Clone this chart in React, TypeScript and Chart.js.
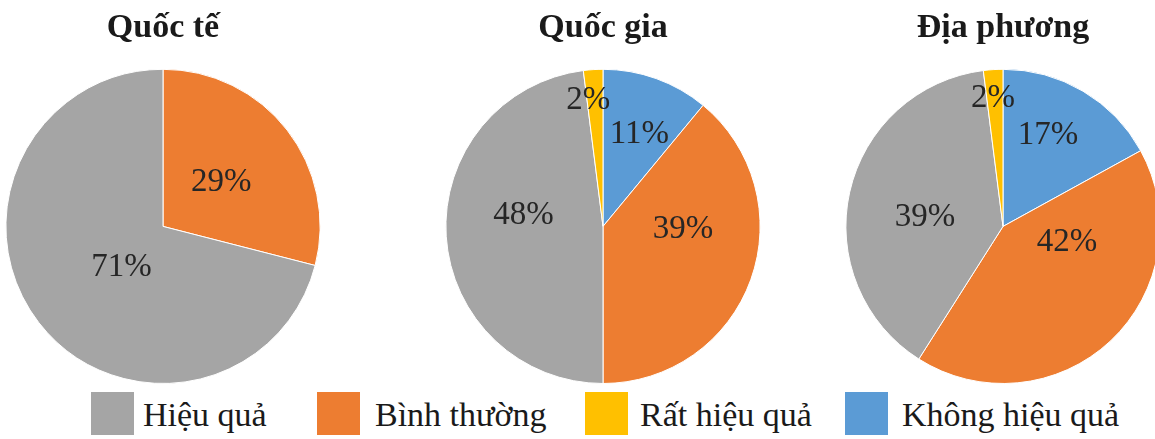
import React, { useEffect, useRef } from "react";
import { Chart, registerables } from "chart.js";

Chart.register(...registerables);

// ---- data ----
const categories = ["Không hiệu quả", "Bình thường", "Hiệu quả", "Rất hiệu quả"];
const colors = ["#5B9BD5", "#ED7D31", "#A5A5A5", "#FFC000"];
const titles = ["Quốc tế", "Quốc gia", "Địa phương"];
const quocTe = [0, 29, 71, 0];
const quocGia = [11, 39, 48, 2];
const diaPhuong = [17, 42, 39, 2];
const legendOrder = ["Hiệu quả", "Bình thường", "Rất hiệu quả", "Không hiệu quả"];

// label placement (angle shift in degrees from slice middle, radius fraction)
const qtLabelShift = [0, 0.8, -6.6, 0];
const qtLabelRadius = [0.5, 0.465, 0.37, 0.5];
const qgLabelShift = [1.8, -18, 11.2, -3.1];
const qgLabelRadius = [0.63, 0.51, 0.51, 0.81];
const dpLabelShift = [-4.2, -32.5, -6.2, -0.8];
const dpLabelRadius = [0.645, 0.42, 0.5, 0.82];

const SERIF = "'Liberation Serif', 'Times New Roman', serif";

const pieLabelPlugin = {
  id: "pieLabels",
  afterDatasetsDraw(chart: any, _args: any, opts: any) {
    const ctx = chart.ctx;
    const meta = chart.getDatasetMeta(0);
    const data = chart.data.datasets[0].data as number[];
    ctx.save();
    ctx.font = `normal 400 33px ${SERIF}`;
    ctx.fillStyle = "#262626";
    ctx.textAlign = "center";
    ctx.textBaseline = "middle";
    meta.data.forEach((arc: any, i: number) => {
      const v = data[i];
      if (!v) return;
      const p = arc.getProps(["x", "y", "startAngle", "endAngle", "outerRadius"], true);
      const mid = (p.startAngle + p.endAngle) / 2 + ((opts.shift[i] || 0) * Math.PI) / 180;
      const r = p.outerRadius * (opts.radius[i] ?? 0.5);
      ctx.fillText(`${v}%`, p.x + Math.cos(mid) * r, p.y + Math.sin(mid) * r);
    });
    ctx.restore();
  },
};

function PieChart(props: { title: string; values: number[]; shift: number[]; radius: number[]; left: number }) {
  const ref = useRef<HTMLCanvasElement | null>(null);
  useEffect(() => {
    if (!ref.current) return;
    const chart = new Chart(ref.current, {
      type: "pie",
      data: {
        labels: categories,
        datasets: [
          {
            data: props.values,
            backgroundColor: colors,
            borderColor: "#ffffff",
            borderWidth: 1,
            hoverOffset: 0,
            offset: 0,
          },
        ],
      },
      options: {
        animation: false,
        responsive: false,
        events: [],
        layout: { padding: 0 },
        plugins: {
          legend: { display: false },
          tooltip: { enabled: false },
          title: {
            display: true,
            text: props.title,
            color: "#1a1a1a",
            font: { family: SERIF, size: 34, weight: "bold", lineHeight: 1.2 },
            padding: { top: 8, bottom: 20 },
          },
          pieLabels: { shift: props.shift, radius: props.radius },
        } as any,
      },
      plugins: [pieLabelPlugin],
    });
    return () => chart.destroy();
  }, []);
  return (
    <canvas
      ref={ref}
      width={330}
      height={384}
      style={{ position: "absolute", left: props.left, top: 0, width: 330, height: 384 }}
    />
  );
}

const legendSquareX = [91, 317, 585, 845];
const legendTextX = [143, 375, 640, 902];

export default function App() {
  return (
    <div
      style={{
        position: "absolute",
        left: 0,
        top: 0,
        width: 1155,
        height: 439,
        overflow: "hidden",
        background: "#ffffff",
      }}
    >
      <PieChart title={titles[0]} values={quocTe} shift={qtLabelShift} radius={qtLabelRadius} left={-2} />
      <PieChart title={titles[1]} values={quocGia} shift={qgLabelShift} radius={qgLabelRadius} left={438} />
      <PieChart title={titles[2]} values={diaPhuong} shift={dpLabelShift} radius={dpLabelRadius} left={838} />
      {legendOrder.map((name, i) => (
        <React.Fragment key={name}>
          <div
            style={{
              position: "absolute",
              left: legendSquareX[i],
              top: 392,
              width: 43,
              height: 43,
              background: colors[categories.indexOf(name)],
            }}
          />
          <div
            style={{
              position: "absolute",
              left: legendTextX[i],
              top: 395,
              height: 40,
              lineHeight: "40px",
              fontFamily: SERIF,
              fontSize: 34,
              color: "#1a1a1a",
              whiteSpace: "nowrap",
            }}
          >
            {name}
          </div>
        </React.Fragment>
      ))}
    </div>
  );
}
